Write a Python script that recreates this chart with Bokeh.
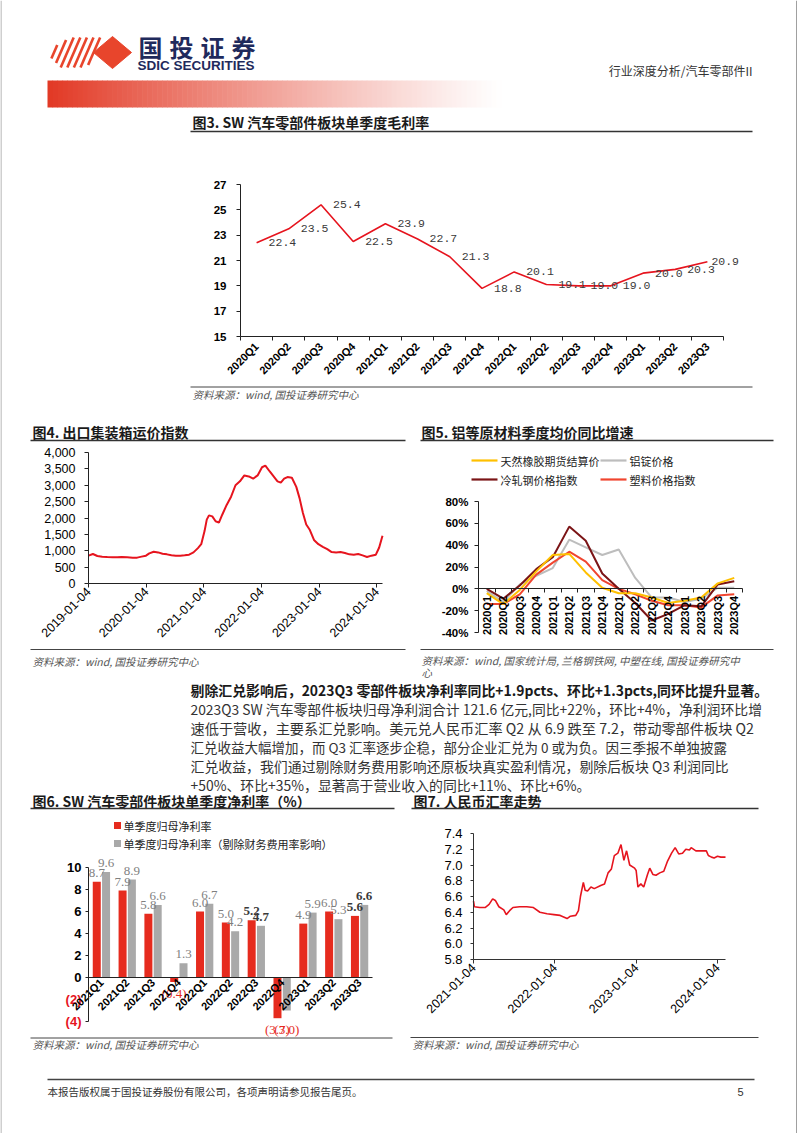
import math
import pandas as pd
from bokeh.plotting import figure
from bokeh.models import (Range1d, FixedTicker, PrintfTickFormatter, DatetimeTickFormatter,
                          NumeralTickFormatter, LinearAxis, DatetimeAxis)
from bokeh.core.properties import value
from bokeh.embed import file_html
from bokeh.resources import INLINE

# ---------------- data ----------------
gm_quarters = ["2020Q1", "2020Q2", "2020Q3", "2020Q4", "2021Q1", "2021Q2", "2021Q3", "2021Q4",
               "2022Q1", "2022Q2", "2022Q3", "2022Q4", "2023Q1", "2023Q2", "2023Q3"]
gross_margin = [22.4, 23.5, 25.4, 22.5, 23.9, 22.7, 21.3, 18.8, 20.1, 19.1, 19.0, 19.0, 20.0, 20.3, 20.9]
gm_ticks = [15, 17, 19, 21, 23, 25, 27]

freight_dates = ["2019-01-04", "2019-02-01", "2019-03-01", "2019-04-01", "2019-05-03", "2019-06-07",
                 "2019-07-05", "2019-08-02", "2019-09-06", "2019-10-11", "2019-11-08", "2019-12-06",
                 "2020-01-03", "2020-01-24", "2020-02-21", "2020-03-20", "2020-04-17", "2020-05-15",
                 "2020-06-12", "2020-07-10", "2020-08-07", "2020-09-04", "2020-10-02", "2020-10-30",
                 "2020-11-27", "2020-12-18", "2021-01-08", "2021-01-22", "2021-02-05", "2021-02-26",
                 "2021-03-19", "2021-04-09", "2021-04-30", "2021-05-28", "2021-06-25", "2021-07-23",
                 "2021-08-20", "2021-09-17", "2021-10-15", "2021-11-12", "2021-12-10", "2022-01-07",
                 "2022-01-28", "2022-02-25", "2022-03-25", "2022-04-15", "2022-05-06", "2022-05-27",
                 "2022-06-17", "2022-07-15", "2022-08-12", "2022-09-02", "2022-09-23", "2022-10-14",
                 "2022-11-04", "2022-12-02", "2022-12-30", "2023-01-27", "2023-02-24", "2023-03-24",
                 "2023-04-21", "2023-05-19", "2023-06-16", "2023-07-14", "2023-08-11", "2023-09-08",
                 "2023-10-06", "2023-11-03", "2023-12-01", "2023-12-29", "2024-01-19", "2024-02-09"]
freight_index = [850, 900, 840, 820, 810, 800,
                 800, 810, 800, 790, 790, 820,
                 850, 920, 970, 950, 910, 890,
                 860, 850, 850, 860, 880, 950,
                 1080, 1200, 1600, 1950, 2080, 2050,
                 1900, 1860, 2100, 2400, 2650, 3000,
                 3120, 3300, 3270, 3200, 3300, 3550,
                 3600, 3420, 3250, 3120, 3080, 3200,
                 3250, 3230, 2950, 2600, 2150, 1800,
                 1650, 1330, 1200, 1120, 1050, 960,
                 950, 960, 930, 890, 880, 900,
                 860, 810, 850, 880, 1100, 1460]
freight_xticks = ["2019-01-04", "2020-01-04", "2021-01-04", "2022-01-04", "2023-01-04", "2024-01-04"]
freight_yticks = [0, 500, 1000, 1500, 2000, 2500, 3000, 3500, 4000]

mat_quarters = ["2020Q1", "2020Q2", "2020Q3", "2020Q4", "2021Q1", "2021Q2", "2021Q3", "2021Q4",
                "2022Q1", "2022Q2", "2022Q3", "2022Q4", "2023Q1", "2023Q2", "2023Q3", "2023Q4"]
rubber = [-4, -14, -1, 16, 31, 32, 15, 1, -4, -4, -8, -13, -11, -8, 5, 10]
aluminium = [-2, -12, 4, 12, 19, 45, 38, 31, 36, 10, -8, -8, -12, -9, 1, 1]
steel = [0, -9, 3, 18, 29, 57, 44, 14, 0, -13, -29, -23, -15, -16, 4, 7]
plastic = [-14, -14, -5, 13, 24, 34, 25, 8, 0, -5, -11, -15, -15, -17, -6, -5]
mat_yticks = [-40, -20, 0, 20, 40, 60, 80]

nm_quarters = ["2021Q1", "2021Q2", "2021Q3", "2021Q4", "2022Q1", "2022Q2", "2022Q3", "2022Q4",
               "2023Q1", "2023Q2", "2023Q3"]
net_margin = [8.7, 7.9, 5.8, -0.4, 6.0, 5.0, 5.2, -3.7, 4.9, 6.0, 5.6]
net_margin_adj = [9.6, 8.9, 6.6, 1.3, 6.7, 4.2, 4.7, -3.0, 5.9, 5.3, 6.6]
nm_yticks = [-4, -2, 0, 2, 4, 6, 8, 10]

fx_dates = ["2021-01-04", "2021-01-08", "2021-02-01", "2021-02-25", "2021-03-15", "2021-03-31",
            "2021-04-12", "2021-04-28", "2021-05-20", "2021-05-31", "2021-06-15", "2021-06-30",
            "2021-07-30", "2021-08-31", "2021-09-30", "2021-10-29", "2021-11-30", "2021-12-31",
            "2022-01-28", "2022-02-28", "2022-03-15", "2022-04-08", "2022-04-20", "2022-04-29",
            "2022-05-12", "2022-05-20", "2022-05-31", "2022-06-15", "2022-06-30", "2022-07-29",
            "2022-08-15", "2022-08-31", "2022-09-15", "2022-09-28", "2022-10-14", "2022-10-28",
            "2022-11-10", "2022-11-22", "2022-12-06", "2022-12-28", "2023-01-04", "2023-01-12",
            "2023-01-25", "2023-02-07", "2023-02-24", "2023-03-06", "2023-03-20", "2023-04-03",
            "2023-04-20", "2023-05-08", "2023-05-25", "2023-06-12", "2023-06-28", "2023-07-14",
            "2023-07-31", "2023-08-15", "2023-08-31", "2023-09-08", "2023-09-29", "2023-10-31",
            "2023-11-15", "2023-11-24", "2023-12-08", "2023-12-20", "2024-01-04", "2024-01-19",
            "2024-02-09"]
fx_rate = [6.54, 6.47, 6.46, 6.46, 6.50, 6.57,
           6.55, 6.47, 6.43, 6.37, 6.42, 6.46,
           6.47, 6.47, 6.46, 6.40, 6.38, 6.37,
           6.36, 6.32, 6.35, 6.36, 6.42, 6.60,
           6.78, 6.68, 6.67, 6.72, 6.70, 6.74,
           6.76, 6.90, 6.95, 7.12, 7.15, 7.26,
           7.06, 7.18, 7.00, 6.96, 6.93, 6.72,
           6.76, 6.72, 6.88, 6.96, 6.88, 6.87,
           6.90, 6.92, 7.05, 7.15, 7.22, 7.14,
           7.15, 7.20, 7.19, 7.22, 7.18, 7.18,
           7.18, 7.12, 7.10, 7.09, 7.11, 7.10,
           7.10]
fx_xticks = ["2021-01-04", "2022-01-04", "2023-01-04", "2024-01-04"]
fx_yticks = [5.8, 6.0, 6.2, 6.4, 6.6, 6.8, 7.0, 7.2, 7.4]

# ---------------- styling ----------------
CJK = "Noto Sans CJK SC"
SANS = "Liberation Sans"
SERIF = "Liberation Serif"
MONO = "Liberation Mono"
RED = "#E6141E"
DATEFMT = "%Y-%m-%d"
PX0, PY0, PX1, PY1 = 0, 0, 802, 1133   # page rectangle covered by the figure


def ms(s):
    return pd.Timestamp(s).value / 1e6


def sub_range(v0, v1, p0, p1, horizontal=True):
    """Range whose values v0/v1 land on page pixels p0/p1 of the page-sized frame."""
    k = (p1 - p0) / (v1 - v0)
    a, b = (PX0, PX1) if horizontal else (PY1, PY0)
    return Range1d(v0 + (a - p0) / k, v0 + (b - p0) / k)


p = figure(width=PX1 - PX0, height=PY1 - PY0, x_range=Range1d(PX0, PX1), y_range=Range1d(PY1, PY0),
           x_axis_type=None, y_axis_type=None, min_border=0, min_border_left=0, min_border_right=0,
           min_border_top=0, min_border_bottom=0, output_backend="svg", toolbar_location=None)
p.outline_line_color = None
p.background_fill_color = "white"
p.border_fill_color = "white"


def T(x, y, s, size, color="#333333", font=CJK, style="normal", align="left", baseline="middle"):
    p.text(x=[x], y=[y], text=[s], text_font=value(font), text_font_size=f"{size}px",
           text_font_style=style, text_color=color, text_align=align, text_baseline=baseline)


def L(xs, ys, color="#333333", width=1.0):
    p.line(x=xs, y=ys, line_color=color, line_width=width)


def style_axis(ax, size, bold=False, color="#000000", tick_out=4, standoff=4, line_color="#222222"):
    ax.axis_line_color = line_color
    ax.axis_line_width = 1
    ax.major_tick_line_color = line_color
    ax.major_tick_in = 0
    ax.major_tick_out = tick_out
    ax.minor_tick_line_color = None
    ax.major_label_text_font = SANS
    ax.major_label_text_font_size = f"{size}px"
    ax.major_label_text_font_style = "bold" if bold else "normal"
    ax.major_label_text_color = color
    ax.major_label_standoff = standoff


def date_formatter():
    return DatetimeTickFormatter(microseconds=DATEFMT, milliseconds=DATEFMT, seconds=DATEFMT,
                                 minsec=DATEFMT, minutes=DATEFMT, hourmin=DATEFMT, hours=DATEFMT,
                                 days=DATEFMT, months=DATEFMT, years=DATEFMT)


# chart boxes on the page (left, top, right, bottom of plot area)
n3, n5, n6 = len(gm_quarters), len(mat_quarters), len(nm_quarters)
p.extra_x_ranges = {
    "c3x": sub_range(-0.5, n3 - 0.5, 240, 723),
    "c4x": sub_range(ms(freight_dates[0]), ms(freight_dates[-1]), 88, 382),
    "c5x": sub_range(-0.5, n5 - 0.5, 478, 742),
    "c6x": sub_range(-0.5, n6 - 0.5, 88, 372),
    "c7x": sub_range(ms(fx_dates[0]), ms(fx_dates[-1]), 473, 725),
}
p.extra_y_ranges = {
    "c3y": sub_range(gm_ticks[0], gm_ticks[-1], 336, 184, False),
    "c4y": sub_range(freight_yticks[0], freight_yticks[-1], 583, 452, False),
    "c5y": sub_range(mat_yticks[0], mat_yticks[-1], 632, 501, False),
    "c6y": sub_range(nm_yticks[0], nm_yticks[-1], 1021, 867, False),
    "c7y": sub_range(fx_yticks[0], fx_yticks[-1], 959, 833, False),
}

# page border
L([0.5, 0.5], [0, 1133], "#a0a0a0", 1.0)
L([796, 796], [0, 1133], "#a0a0a0", 1.0)

# ---------------- header ----------------
stripe_spans = [(0.30, 0.75), (0.15, 0.92), (0.0, 1.0), (0.0, 1.0), (0.0, 1.0), (0.0, 1.0), (0.08, 1.0)]
sx0, sx1, sy0, sy1 = [], [], [], []
for k, (a, b) in enumerate(stripe_spans):
    bx, by, tx, ty = 47 + 6.6 * k, 67, 60 + 6.6 * k, 37
    sx0.append(bx + (tx - bx) * a); sy0.append(by + (ty - by) * a)
    sx1.append(bx + (tx - bx) * b); sy1.append(by + (ty - by) * b)
p.segment(x0=sx0, y0=sy0, x1=sx1, y1=sy1, line_color="#E8452C", line_width=2.6)
p.patch(x=[93, 112, 131, 112], y=[52, 36, 52, 68], fill_color="#E8452C", line_color="#E8452C")
for k, ch in enumerate("国投证券"):
    T(150 + 31 * k, 46, ch, 24, "#1F2A5C", CJK, "bold", align="center")
T(137, 64.5, "SDIC SECURITIES", 13.5, "#1F2A5C", SANS, "bold")
T(752, 70, "行业深度分析/汽车零部件II", 12, "#333333", CJK, align="right")

nseg = 92
gx0, gx1 = 47, 506
seg_w = (gx1 - gx0) / nseg
lefts, rights, cols = [], [], []
for k in range(nseg):
    t = k / (nseg - 1)
    m = (1 - t) ** 1.15
    r = int(round(255 - (255 - 226) * m))
    g = int(round(255 - (255 - 58) * m))
    b = int(round(255 - (255 - 38) * m))
    lefts.append(gx0 + k * seg_w)
    rights.append(gx0 + (k + 1) * seg_w + 0.6)
    cols.append(f"#{r:02x}{g:02x}{b:02x}")
p.quad(left=lefts, right=rights, top=[80] * nseg, bottom=[107] * nseg, fill_color=cols, line_color=None)

# ---------------- chart 3 ----------------
T(192, 121, "图3. SW 汽车零部件板块单季度毛利率", 14, "#1a1a1a", CJK, "bold")
L([190, 752], [131, 131], "#333333", 1.4)
xi3 = list(range(n3))
p.line(xi3, gross_margin, line_color=RED, line_width=1.6, x_range_name="c3x", y_range_name="c3y")
off3 = [12] * (n3 - 1) + [4]
p.text(x=xi3, y=gross_margin, text=[f"{v:.1f}" for v in gross_margin], x_offset=off3,
       x_range_name="c3x", y_range_name="c3y", text_font=value(MONO), text_font_size="11.5px",
       text_color="#3a3a3a", text_baseline="middle", text_align="left")
ya = LinearAxis(x_range_name="c3x", y_range_name="c3y", fixed_location=-0.5,
                bounds=(gm_ticks[0], gm_ticks[-1]), ticker=FixedTicker(ticks=gm_ticks))
style_axis(ya, 11.5, bold=True, tick_out=4, standoff=10)
p.add_layout(ya, "left")
xa = LinearAxis(x_range_name="c3x", y_range_name="c3y", fixed_location=gm_ticks[0], bounds=(-0.5, n3 - 0.5),
                ticker=FixedTicker(ticks=xi3, minor_ticks=[i - 0.5 for i in range(n3 + 1)]),
                major_label_overrides={i: q for i, q in enumerate(gm_quarters)})
style_axis(xa, 11, bold=True, tick_out=3, standoff=4)
xa.major_tick_line_color = None
xa.minor_tick_line_color = "#222222"
xa.minor_tick_out = 4
xa.minor_tick_in = 0
xa.major_label_orientation = math.pi / 4
p.add_layout(xa, "below")
L([190, 752], [386.5, 386.5], "#444444", 1.0)
T(192, 394, "资料来源：wind, 国投证券研究中心", 10.5, "#555555", CJK, "italic")

# ---------------- chart 4 ----------------
T(32, 431, "图4. 出口集装箱运价指数", 14, "#1a1a1a", CJK, "bold")
L([30, 405], [440, 440], "#333333", 1.4)
p.line([ms(d) for d in freight_dates], freight_index, line_color=RED, line_width=2,
       x_range_name="c4x", y_range_name="c4y")
ya = LinearAxis(x_range_name="c4x", y_range_name="c4y", fixed_location=ms(freight_dates[0]),
                bounds=(freight_yticks[0], freight_yticks[-1]), ticker=FixedTicker(ticks=freight_yticks),
                formatter=NumeralTickFormatter(format="0,0"))
style_axis(ya, 12.5, tick_out=4, standoff=9)
p.add_layout(ya, "left")
xa = DatetimeAxis(x_range_name="c4x", y_range_name="c4y", fixed_location=freight_yticks[0],
                  bounds=(ms(freight_dates[0]), ms(freight_dates[-1])),
                  ticker=FixedTicker(ticks=[ms(d) for d in freight_xticks]), formatter=date_formatter())
style_axis(xa, 12.5, tick_out=4, standoff=2)
xa.major_label_orientation = math.pi / 4
p.add_layout(xa, "below")
L([30, 405], [649, 649], "#444444", 1.0)
T(32, 661, "资料来源：wind, 国投证券研究中心", 10.5, "#555555", CJK, "italic")

# ---------------- chart 5 ----------------
T(421, 431, "图5. 铝等原材料季度均价同比增速", 14, "#1a1a1a", CJK, "bold")
L([420, 773], [440, 440], "#333333", 1.4)
xi5 = list(range(n5))
series5 = [("天然橡胶期货结算价", rubber, "#FFC000"), ("铝锭价格", aluminium, "#BDBDBD"),
           ("冷轧钢价格指数", steel, "#7B1416"), ("塑料价格指数", plastic, "#F0452F")]
for name, vals, c in [series5[1], series5[3], series5[2], series5[0]]:
    p.line(xi5, vals, line_color=c, line_width=2, x_range_name="c5x", y_range_name="c5y")
leg_pos = [(471, 460), (600, 460), (471, 479), (600, 479)]
for (name, vals, c), (lx, ly) in zip(series5, leg_pos):
    L([lx, lx + 26], [ly, ly], c, 2.2)
    T(lx + 29, ly, name, 11, "#222222", CJK)
ya = LinearAxis(x_range_name="c5x", y_range_name="c5y", fixed_location=-0.5,
                bounds=(mat_yticks[0], mat_yticks[-1]), ticker=FixedTicker(ticks=mat_yticks),
                formatter=PrintfTickFormatter(format="%d%%"))
style_axis(ya, 11.5, bold=True, tick_out=4, standoff=6)
p.add_layout(ya, "left")
xa = LinearAxis(x_range_name="c5x", y_range_name="c5y", fixed_location=0, bounds=(-0.5, n5 - 0.5),
                ticker=FixedTicker(ticks=xi5, minor_ticks=[i - 0.5 for i in range(n5 + 1)]),
                major_label_overrides={i: q for i, q in enumerate(mat_quarters)})
style_axis(xa, 11, bold=True, tick_out=3, standoff=3)
xa.major_tick_line_color = None
xa.minor_tick_line_color = "#222222"
xa.minor_tick_out = 4
xa.minor_tick_in = 0
xa.major_label_orientation = math.pi / 2
p.add_layout(xa, "below")
L([420, 773], [649, 649], "#444444", 1.0)
T(421, 660, "资料来源：wind, 国家统计局, 兰格钢铁网, 中塑在线, 国投证券研究中", 10.5, "#555555", CJK, "italic")
T(421, 672, "心", 10.5, "#555555", CJK, "italic")

# ---------------- paragraph ----------------
para = [
    "2023Q3  SW 汽车零部件板块归母净利润合计 121.6 亿元,同比+22%，环比+4%，净利润环比增",
    "速低于营收，主要系汇兑影响。美元兑人民币汇率 Q2 从 6.9 跌至 7.2，带动零部件板块 Q2",
    "汇兑收益大幅增加，而 Q3 汇率逐步企稳，部分企业汇兑为 0 或为负。因三季报不单独披露",
    "汇兑收益，我们通过剔除财务费用影响还原板块真实盈利情况，剔除后板块 Q3 利润同比",
    "+50%、环比+35%，显著高于营业收入的同比+11%、环比+6%。",
]
para_sizes = [13.85, 14.2, 13.5, 13.9, 13.9]
T(190, 689, "剔除汇兑影响后，2023Q3 零部件板块净利率同比+1.9pcts、环比+1.3pcts,同环比提升显著。",
  13.9, "#1a1a1a", CJK, "bold")
for k, (line, sz) in enumerate(zip(para, para_sizes)):
    T(190, 708 + 19 * k, line, sz, "#333333", CJK)

# ---------------- chart 6 ----------------
T(32, 800, "图6. SW 汽车零部件板块单季度净利率（%）", 14, "#1a1a1a", CJK, "bold")
L([30, 394], [808, 808], "#333333", 1.4)
xi6 = list(range(n6))
RED6, GRAY6 = "#E62B1E", "#A9A9A9"
p.vbar(x=[i - 0.18 for i in xi6], top=net_margin, bottom=0, width=0.31, fill_color=RED6, line_color=None,
       x_range_name="c6x", y_range_name="c6y")
p.vbar(x=[i + 0.18 for i in xi6], top=net_margin_adj, bottom=0, width=0.31, fill_color=GRAY6,
       line_color=None, x_range_name="c6x", y_range_name="c6y")
p.square(x=[117, 117], y=[825, 843], size=7, fill_color=[RED6, GRAY6], line_color=None)
T(123, 825, "单季度归母净利率", 11, "#222222", CJK)
T(123, 843, "单季度归母净利率（剔除财务费用率影响）", 11, "#222222", CJK)
emph = {6, 10}
for vals, off in [(net_margin, -0.18), (net_margin_adj, 0.18)]:
    for i, v in enumerate(vals):
        if v >= 0:
            txt, col, base, yo, yv = f"{v:.1f}", "#7F7F7F", "bottom", -5, v
        else:
            txt, col, base, yo = f"({abs(v):.1f})", "#E62B1E", "top", 4
            yv = min(net_margin[i], net_margin_adj[i])
        style = "normal"
        if i in emph:
            col, style = "#3A3A3A", "bold"
        p.text(x=[i + off], y=[yv], text=[txt], x_range_name="c6x", y_range_name="c6y",
               text_font=value(SERIF), text_font_size="13px", text_color=col, text_font_style=style,
               text_align="center", text_baseline=base, y_offset=yo)
ya = LinearAxis(x_range_name="c6x", y_range_name="c6y", fixed_location=-0.5,
                bounds=(nm_yticks[0], nm_yticks[-1]), ticker=FixedTicker(ticks=nm_yticks),
                major_label_overrides={t: "" for t in nm_yticks if t < 0})
style_axis(ya, 13, bold=True, tick_out=3, standoff=4)
p.add_layout(ya, "left")
neg_ticks = [t for t in nm_yticks if t < 0]
p.text(x=[81] * len(neg_ticks), y=neg_ticks, text=[f"({abs(t)})" for t in neg_ticks],
       y_range_name="c6y", text_font=value(SANS), text_font_size="13px",
       text_font_style="bold", text_color="#E6141E", text_align="right", text_baseline="middle")
xa = LinearAxis(x_range_name="c6x", y_range_name="c6y", fixed_location=0, bounds=(-0.5, n6 - 0.5),
                ticker=FixedTicker(ticks=xi6), major_label_overrides={i: q for i, q in enumerate(nm_quarters)})
style_axis(xa, 11, bold=True, tick_out=0, standoff=3)
xa.major_tick_line_color = None
xa.major_label_orientation = math.pi / 4
p.add_layout(xa, "below")
L([30, 392], [1037.5, 1037.5], "#444444", 1.0)
T(32, 1044, "资料来源：wind, 国投证券研究中心", 10.5, "#555555", CJK, "italic")

# ---------------- chart 7 ----------------
T(413, 800, "图7. 人民币汇率走势", 14, "#1a1a1a", CJK, "bold")
L([411, 758], [808, 808], "#333333", 1.4)
p.line([ms(d) for d in fx_dates], fx_rate, line_color=RED, line_width=1.6,
       x_range_name="c7x", y_range_name="c7y")
ya = LinearAxis(x_range_name="c7x", y_range_name="c7y", fixed_location=ms(fx_dates[0]),
                bounds=(fx_yticks[0], fx_yticks[-1]), ticker=FixedTicker(ticks=fx_yticks),
                formatter=PrintfTickFormatter(format="%.1f"))
style_axis(ya, 13, tick_out=3, standoff=8, line_color="#333333")
p.add_layout(ya, "left")
xa = DatetimeAxis(x_range_name="c7x", y_range_name="c7y", fixed_location=fx_yticks[0],
                  bounds=(ms(fx_dates[0]), ms(fx_dates[-1])),
                  ticker=FixedTicker(ticks=[ms(d) for d in fx_xticks]), formatter=date_formatter())
style_axis(xa, 12.5, tick_out=4, standoff=2, line_color="#333333")
xa.major_label_orientation = math.pi / 4
p.add_layout(xa, "below")
L([410, 758], [1037, 1037], "#444444", 1.0)
T(412, 1044, "资料来源：wind, 国投证券研究中心", 10.5, "#555555", CJK, "italic")

# ---------------- footer ----------------
L([47, 754], [1079, 1079], "#444444", 1.5)
T(47, 1091, "本报告版权属于国投证券股份有限公司，各项声明请参见报告尾页。", 10.5, "#333333", CJK)
T(743, 1091, "5", 11, "#333333", SANS, align="right")

open("out.html", "w").write(file_html(p, INLINE))
